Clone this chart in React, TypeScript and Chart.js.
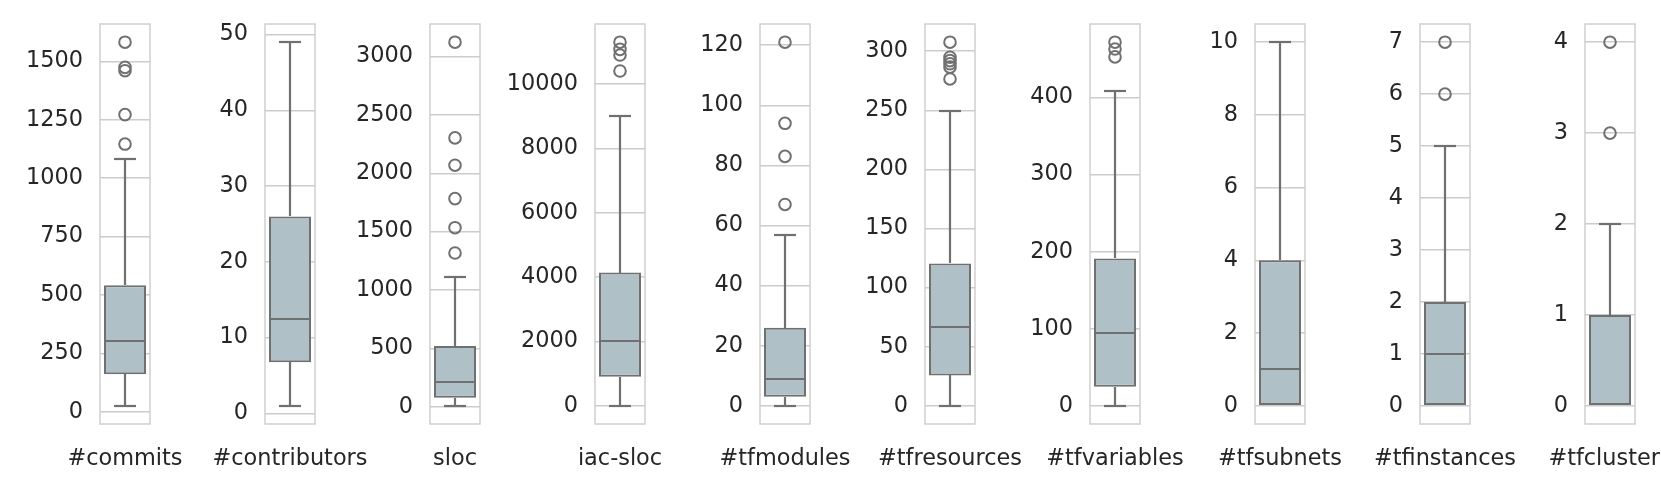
import React, { useEffect, useRef } from 'react';
import { Chart, registerables } from 'chart.js';

Chart.register(...registerables);

// ---------- data ----------
const categories = ['#commits', '#contributors', 'sloc', 'iac-sloc', '#tfmodules', '#tfresources', '#tfvariables', '#tfsubnets', '#tfinstances', '#tfclusters'];
const whiskerLow = [26, 1, 8, 0, 0, 0, 0, 0, 0, 0];
const q1Values = [161, 6.75, 77, 900, 3, 25.7, 24.7, 0, 0, 0];
const medianValues = [302, 12.5, 214, 2028, 9, 67, 94.4, 1, 1, 0];
const q3Values = [542, 26, 520, 4140, 26, 120.4, 191.3, 4, 2, 1];
const whiskerHigh = [1082, 49, 1114, 9000, 57, 249, 408, 10, 5, 2];
const outlierValues = [
  [1146, 1272, 1460, 1474, 1582],
  [],
  [1317, 1534, 1783, 2069, 2303, 3123],
  [10404, 10900, 11078, 11300],
  [67, 83, 94, 121],
  [276.5, 286.5, 289.3, 292, 294.9, 307.6],
  [452.8, 463, 471.9],
  [],
  [6, 7],
  [3, 4],
];
const tickValues = [
  [0, 250, 500, 750, 1000, 1250, 1500],
  [0, 10, 20, 30, 40, 50],
  [0, 500, 1000, 1500, 2000, 2500, 3000],
  [0, 2000, 4000, 6000, 8000, 10000],
  [0, 20, 40, 60, 80, 100, 120],
  [0, 50, 100, 150, 200, 250, 300],
  [0, 100, 200, 300, 400],
  [0, 2, 4, 6, 8, 10],
  [0, 1, 2, 3, 4, 5, 6, 7],
  [0, 1, 2, 3, 4],
];

// ---------- styles / layout ----------
const FIG_W = 1661;
const FIG_H = 498;
const AX_LEFT0 = 100;
const AX_STEP = 165.04;
const AX_W = 50;
const AX_TOP = 24;
const AX_BOTTOM = 424;
const CANVAS_W = 250;
const LEFT_SPACE = 95;
const BOX_FILL = '#afc1c6';
const EDGE = '#707070';
const GRID = '#cccccc';
const TEXT = '#262626';
const FONT = { family: '"DejaVu Sans", sans-serif', size: 22.4 };

function boxPlugin(i: number) {
  return {
    id: 'boxParts' + i,
    beforeDatasetsDraw(chart: any) {
      const { ctx, chartArea } = chart;
      ctx.save();
      ctx.strokeStyle = GRID;
      ctx.lineWidth = 1.4;
      ctx.strokeRect(chartArea.left, chartArea.top, chartArea.right - chartArea.left, chartArea.bottom - chartArea.top);
      ctx.restore();
    },
    afterDatasetsDraw(chart: any) {
      const { ctx, chartArea } = chart;
      const x = chart.scales.x;
      const y = chart.scales.y;
      const cx = Math.round(x.getPixelForValue(0));
      const w = chartArea.right - chartArea.left;
      const capHalf = Math.round(0.21 * w);
      const boxHalf = 0.42 * w;
      ctx.save();
      ctx.strokeStyle = EDGE;
      ctx.lineWidth = 2.2;
      ctx.lineCap = 'butt';
      const line = (x1: number, y1: number, x2: number, y2: number) => {
        ctx.beginPath();
        ctx.moveTo(x1, y1);
        ctx.lineTo(x2, y2);
        ctx.stroke();
      };
      const py = (v: number) => Math.round(y.getPixelForValue(v));
      const pHi = py(whiskerHigh[i]);
      const pQ3 = py(q3Values[i]);
      const pQ1 = py(q1Values[i]);
      const pLo = py(whiskerLow[i]);
      const pMed = py(medianValues[i]);
      if (whiskerHigh[i] > q3Values[i]) {
        line(cx, pQ3, cx, pHi);
        line(cx - capHalf, pHi, cx + capHalf, pHi);
      }
      if (whiskerLow[i] < q1Values[i]) {
        line(cx, pQ1, cx, pLo);
        line(cx - capHalf, pLo, cx + capHalf, pLo);
      }
      if (medianValues[i] > q1Values[i]) {
        line(cx - boxHalf + 1, pMed, cx + boxHalf - 1, pMed);
      }
      ctx.restore();
    },
  };
}

function Panel({ index }: { index: number }) {
  const ref = useRef<HTMLCanvasElement | null>(null);
  const axLeft = Math.round(AX_LEFT0 + AX_STEP * index);
  const canvasLeft = axLeft - LEFT_SPACE;
  const yAxisWidth = LEFT_SPACE;

  useEffect(() => {
    const i = index;
    const cat = categories[i];
    const lo = Math.min(whiskerLow[i], ...outlierValues[i]);
    const hi = Math.max(whiskerHigh[i], ...outlierValues[i]);
    const span = hi - lo;
    const ymin = lo - 0.05 * span;
    const ymax = hi + 0.05 * span;

    const chart = new Chart(ref.current as HTMLCanvasElement, {
      data: {
        labels: [cat],
        datasets: [
          {
            type: 'bar',
            data: [[q1Values[i], q3Values[i]]],
            backgroundColor: BOX_FILL,
            borderColor: EDGE,
            borderWidth: 2,
            borderSkipped: false,
            barPercentage: 0.84,
            categoryPercentage: 1,
            order: 2,
          } as any,
          {
            type: 'line',
            data: outlierValues[i].map((v) => ({ x: cat, y: v })),
            showLine: false,
            pointStyle: 'circle',
            pointRadius: 5.8,
            pointBorderWidth: 2,
            pointBorderColor: EDGE,
            pointBackgroundColor: 'rgba(0,0,0,0)',
            order: 1,
          } as any,
        ],
      },
      options: {
        animation: false,
        responsive: false,
        maintainAspectRatio: false,
        layout: {
          padding: { left: 0, top: AX_TOP, right: CANVAS_W - yAxisWidth - AX_W, bottom: 0 },
        },
        plugins: { legend: { display: false }, tooltip: { enabled: false } },
        scales: {
          x: {
            type: 'category',
            offset: true,
            grid: { display: false, drawTicks: false },
            border: { display: false },
            ticks: { padding: 22, maxRotation: 0, minRotation: 0, autoSkip: false, color: TEXT, font: FONT },
            afterFit: (s: any) => {
              s.height = FIG_H - AX_BOTTOM;
              s.paddingLeft = 0;
              s.paddingRight = 0;
              s.paddingTop = 0;
              s.paddingBottom = 0;
            },
          },
          y: {
            type: 'linear',
            min: ymin,
            max: ymax,
            grid: { color: GRID, lineWidth: 1.4, drawTicks: false },
            border: { display: false },
            ticks: { padding: 17, color: TEXT, font: FONT, callback: (v: any) => String(v) },
            afterBuildTicks: (s: any) => {
              s.ticks = tickValues[i].map((v) => ({ value: v }));
            },
            afterFit: (s: any) => {
              s.width = yAxisWidth;
              s.paddingLeft = 0;
              s.paddingRight = 0;
              s.paddingTop = 0;
              s.paddingBottom = 0;
            },
          },
        },
      } as any,
      plugins: [boxPlugin(i)],
    });
    return () => chart.destroy();
  }, []);

  return (
    <canvas
      ref={ref}
      width={CANVAS_W}
      height={FIG_H}
      style={{ position: 'absolute', left: canvasLeft, top: 0, width: CANVAS_W, height: FIG_H }}
    />
  );
}

export default function App() {
  return (
    <div
      style={{
        position: 'absolute',
        left: 0,
        top: 0,
        width: FIG_W,
        height: FIG_H,
        overflow: 'hidden',
        background: '#ffffff',
      }}
    >
      {categories.map((c, i) => (
        <Panel key={c} index={i} />
      ))}
    </div>
  );
}
